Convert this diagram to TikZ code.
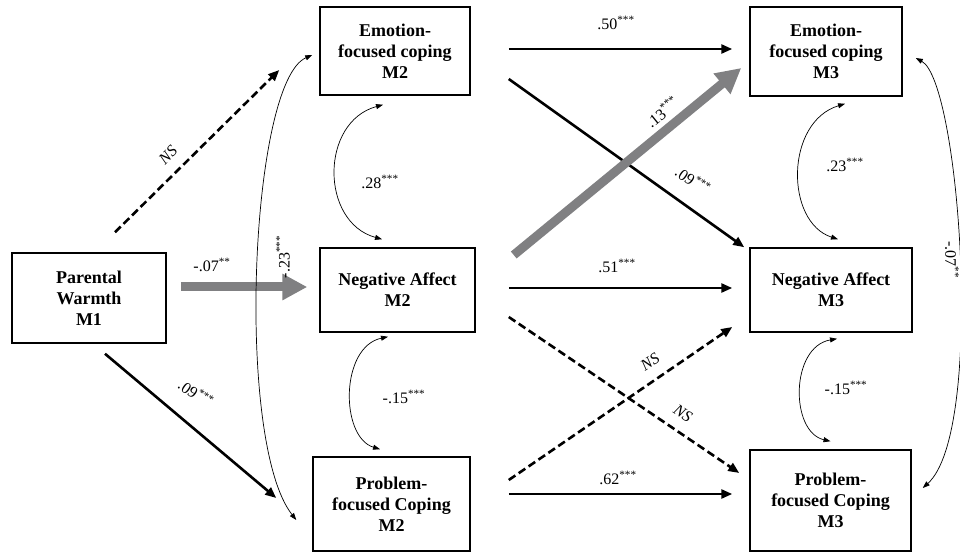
\documentclass[tikz,border=0pt]{standalone}
\usepackage{fontspec}
\setmainfont{Liberation Serif}
\usepackage{tikz}
\usetikzlibrary{arrows.meta,calc,positioning}

\begin{document}
\begin{tikzpicture}[x=1pt,y=1pt,
  box/.style={draw,line width=1.5pt,align=center,inner sep=0pt,
    font=\fontsize{18}{21}\selectfont\bfseries},
  lbl/.style={font=\fontsize{16}{18}\selectfont,inner sep=0pt},
  pathway/.style={line width=2.6pt,->,>={Triangle[length=11pt,width=9pt]}},
  nspath/.style={pathway,dash pattern=on 8pt off 4pt},
  grayway/.style={line width=9pt,draw={rgb,255:red,128;green,128;blue,130},->,>={Triangle[length=25pt,width=25pt]}},
  corr/.style={line width=0.7pt,<->,>={Triangle[length=7pt,width=5pt]}}]
\useasboundingbox[fill=white] (0,0) rectangle (960,552);

% boxes
\node[box,minimum width=154pt,minimum height=90pt] (pw) at (89,254) {Parental\\Warmth\\M1};
\node[box,minimum width=150pt,minimum height=88pt] (efc2) at (395,501) {Emotion-\\focused coping\\M2};
\node[box,minimum width=155pt,minimum height=84pt] (na2) at (397.5,262) {Negative Affect\\M2};
\node[box,minimum width=157pt,minimum height=94pt] (pfc2) at (391.5,48) {Problem-\\focused Coping\\M2};
\node[box,minimum width=152pt,minimum height=89pt] (efc3) at (826,500.5) {Emotion-\\focused coping\\M3};
\node[box,minimum width=162pt,minimum height=84pt] (na3) at (831,262) {Negative Affect\\M3};
\node[box,minimum width=161pt,minimum height=101pt] (pfc3) at (830.5,51.5) {Problem-\\focused Coping\\M3};

% M1 -> M2
\draw[nspath] ($(pw.north)+(26,20)$) -- ($(efc2.west)+(-40,-19)$);
\draw[grayway] ($(pw.east)+(14,11)$) -- ($(na2.west)+(-12,3)$);
\draw[pathway] ($(pw.south)+(16,-10)$) -- ($(pfc2.west)+(-36,6)$);
\draw[corr] ($(efc2.west)+(-7,-4)$) .. controls (250,470) and (235,110) .. ($(pfc2.west)+(-16,-16)$);

% M2 -> M3
\draw[pathway] ($(efc2.east)+(38,2)$) -- ($(efc3.west)+(-17,2.5)$);
\draw[pathway] ($(efc2.east)+(38,-28)$) -- ($(na3.north west)+(-5,0)$);
\draw[grayway] ($(na2.east)+(38,35)$) -- ($(efc3.west)+(-8,-16.5)$);
\draw[pathway] ($(na2.east)+(33,2)$) -- ($(na3.west)+(-17,2)$);
\draw[nspath] ($(na2.east)+(33,-27)$) -- ($(pfc3.west)+(-10,27.5)$);
\draw[nspath] ($(pfc2.east)+(38,24)$) -- ($(na3.west)+(-17,-37)$);
\draw[pathway] ($(pfc2.east)+(38,10)$) -- ($(pfc3.west)+(-17,6.5)$);

% correlations
\draw[corr] ($(efc2.south)+(-12,-9)$) .. controls (320,430) and (320,330) .. ($(na2.north)+(-15.5,8)$);
\draw[corr] ($(na2.south)+(-9.5,-4)$) .. controls (340,205) and (340,115) .. ($(pfc2.north)+(-11.5,7)$);
\draw[corr] ($(efc3.south)+(19,-7)$) .. controls (785,430) and (785,330) .. ($(na3.north)+(7,8)$);
\draw[corr] ($(na3.south)+(6,-6)$) .. controls (790,205) and (790,120) .. ($(pfc3.north)+(0,8)$);
\draw[corr] ($(efc3.east)+(13,-6.5)$) .. controls (960,470) and (985,120) .. ($(pfc3.east)+(11,12.5)$);

% labels
\node[lbl,rotate=45] (lns1) at (168,397) {\itshape NS};
\node[lbl] (l07) at (212,287) {-.07\textsuperscript{**}};
\node[lbl,rotate=-35] (l09a) at (196,159) {.09\textsuperscript{***}};
\node[lbl,rotate=90] (l23) at (283,295) {-.23\textsuperscript{***}};
\node[lbl] (l28) at (380,370) {.28\textsuperscript{***}};
\node[lbl] (l15a) at (404,155) {-.15\textsuperscript{***}};
\node[lbl] (l50) at (616,529) {.50\textsuperscript{***}};
\node[lbl,rotate=39] (l13) at (662,440) {.13\textsuperscript{***}};
\node[lbl,rotate=-35] (l09b) at (693,372) {.09\textsuperscript{***}};
\node[lbl] (l51) at (617,286) {.51\textsuperscript{***}};
\node[lbl,rotate=34] (lns2) at (650,190) {\itshape NS};
\node[lbl,rotate=-34] (lns3) at (683,139) {\itshape NS};
\node[lbl] (l62) at (618,74) {.62\textsuperscript{***}};
\node[lbl] (l23b) at (845,387) {.23\textsuperscript{***}};
\node[lbl] (l15b) at (846,164) {-.15\textsuperscript{***}};
\node[lbl,rotate=-90] (l07b) at (952,292) {-.07\textsuperscript{**}};
\end{tikzpicture}
\end{document}
